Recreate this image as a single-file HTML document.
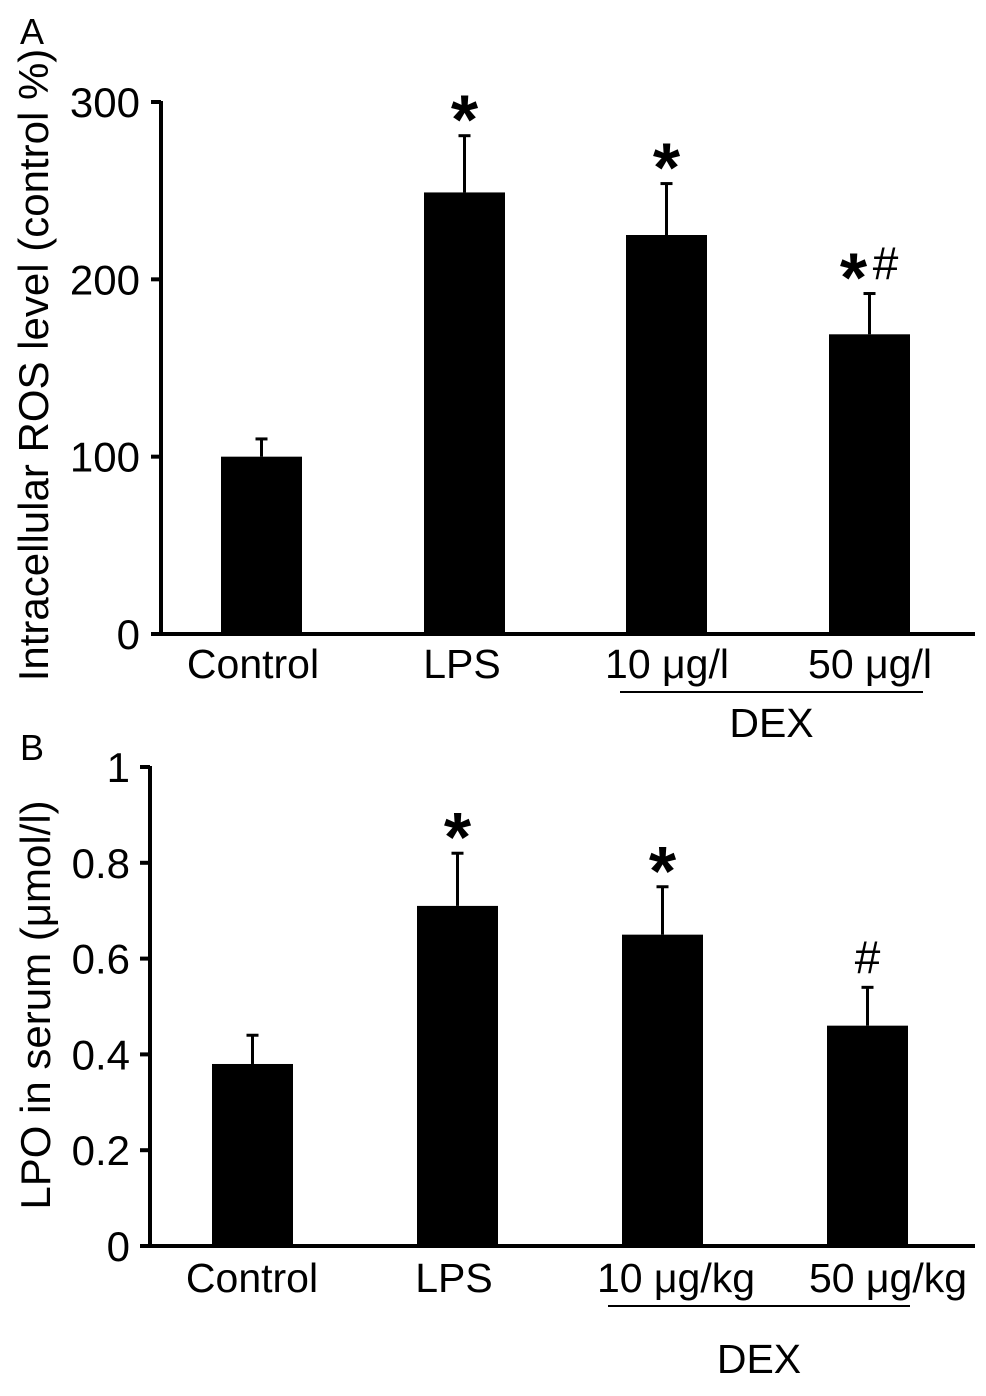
<!DOCTYPE html>
<html><head><meta charset="utf-8"><style>
body{margin:0;background:#fff}
svg text{font-family:"Liberation Sans",Arial,sans-serif;fill:#000}
</style></head><body>
<svg width="986" height="1391" viewBox="0 0 986 1391" xmlns="http://www.w3.org/2000/svg">
<g id="chartA"></g>
<g id="chartB"></g>
</svg>
<script>
const categoriesA = ["Control","LPS","10 μg/l","50 μg/l"];
const valuesA = [100, 249, 225, 169];
const errorsA = [10, 32, 29, 23];
const marksA = ["", "*", "*", "*#"];
const ticksA = [0, 100, 200, 300];

const categoriesB = ["Control","LPS","10 μg/kg","50 μg/kg"];
const valuesB = [0.38, 0.71, 0.65, 0.46];
const errorsB = [0.06, 0.11, 0.10, 0.08];
const marksB = ["", "*", "*", "#"];
const ticksB = [0, 0.2, 0.4, 0.6, 0.8, 1];

const NS = "http://www.w3.org/2000/svg";
function mk(parent, tag, attrs, text){
  const e = document.createElementNS(NS, tag);
  for (const k in attrs) e.setAttribute(k, attrs[k]);
  if (text !== undefined) e.textContent = text;
  parent.appendChild(e);
  return e;
}

function drawPanel(g, cfg){
  const y = v => cfg.y0 - (v - cfg.min) / (cfg.max - cfg.min) * (cfg.y0 - cfg.y1);
  let ax = mk(g, "line", {x1:cfg.ax, y1:cfg.y1 - 1, x2:cfg.ax, y2:cfg.y0 + 1.5, stroke:"#000", "stroke-width":4});
  
  
  let xa = mk(g, "line", {x1:cfg.ax - 10, y1:cfg.y0, x2:cfg.xEnd, y2:cfg.y0, stroke:"#000", "stroke-width":4});
  
  
  cfg.ticks.forEach(t => {
    const ty = y(t);
    const tl = mk(g, "line", {x1:cfg.ax - 10, y1:ty, x2:cfg.ax, y2:ty, stroke:"#000", "stroke-width":4});
    
    
    const lab = mk(g, "text", {x:cfg.tickX, y:ty + 15, "text-anchor":"end", "font-size":42}, cfg.fmt(t));
    
    
  });
  cfg.values.forEach((v, i) => {
    const bx = cfg.barX[i];
    const top = y(v);
    const cx = bx + cfg.bw / 2;
    const et = y(v + cfg.errors[i]);
    const el = mk(g, "line", {x1:cx, y1:et, x2:cx, y2:top, stroke:"#000", "stroke-width":3});
    
    
    const ec = mk(g, "line", {x1:cx - 6, y1:et, x2:cx + 6, y2:et, stroke:"#000", "stroke-width":3});
    
    
    const r = mk(g, "rect", {x:bx, y:top, width:cfg.bw, height:cfg.y0 - top, fill:"#000"});
    
    
    const lab = mk(g, "text", {x:cfg.labX[i], y:cfg.labY, "text-anchor":"middle", "font-size":41}, cfg.cats[i]);
    
    
    const m = cfg.marks[i];
    if (m) {
      let mx = cx - (m.length > 1 ? 16 : 0);
      for (const ch of m) {
        const star = ch === "*";
        const t = mk(g, "text", {x:mx, y:et - (star ? -8 : 14), "text-anchor":"middle", "font-size":star ? 70 : 46, "font-weight":star ? "bold" : "normal"}, ch);
        
        
        mx += 32;
      }
    }
  });
  const dl = mk(g, "line", {x1:cfg.dex[0], y1:cfg.dex[1], x2:cfg.dex[2], y2:cfg.dex[1], stroke:"#000", "stroke-width":2});
  
  
  const dt = mk(g, "text", {x:(cfg.dex[0] + cfg.dex[2]) / 2, y:cfg.dex[3], "text-anchor":"middle", "font-size":41}, "DEX");
  
  
  const yt = mk(g, "text", {x:0, y:0, "text-anchor":"middle", "font-size":42, transform:`translate(${cfg.titleX},${cfg.titleY}) rotate(-90)`}, cfg.title);
  
  
  const pl = mk(g, "text", {x:20, y:cfg.letterY, "font-size":36}, cfg.letter);
  
  
}

drawPanel(document.getElementById("chartA"), {
  min:0, max:300, y0:634, y1:102, ax:161, xEnd:975, tickX:140, ticks:ticksA,
  fmt:t => String(t), values:valuesA, errors:errorsA, marks:marksA, cats:categoriesA,
  barX:[221, 424, 626, 829], bw:81, labX:[253, 462, 667, 870], labY:678,
  dex:[620, 692, 923, 737], title:"Intracellular ROS level (control %)", titleX:48, titleY:365,
  letter:"A", letterY:44
});
drawPanel(document.getElementById("chartB"), {
  min:0, max:1, y0:1246, y1:767, ax:150, xEnd:975, tickX:130, ticks:ticksB,
  fmt:t => t === 0 ? "0" : (t === 1 ? "1" : t.toFixed(1)), values:valuesB, errors:errorsB, marks:marksB, cats:categoriesB,
  barX:[212, 417, 622, 827], bw:81, labX:[252, 454, 676, 888], labY:1292,
  dex:[608, 1306, 910, 1373], title:"LPO in serum (μmol/l)", titleX:50, titleY:1005,
  letter:"B", letterY:760
});
</script>
</body></html>
